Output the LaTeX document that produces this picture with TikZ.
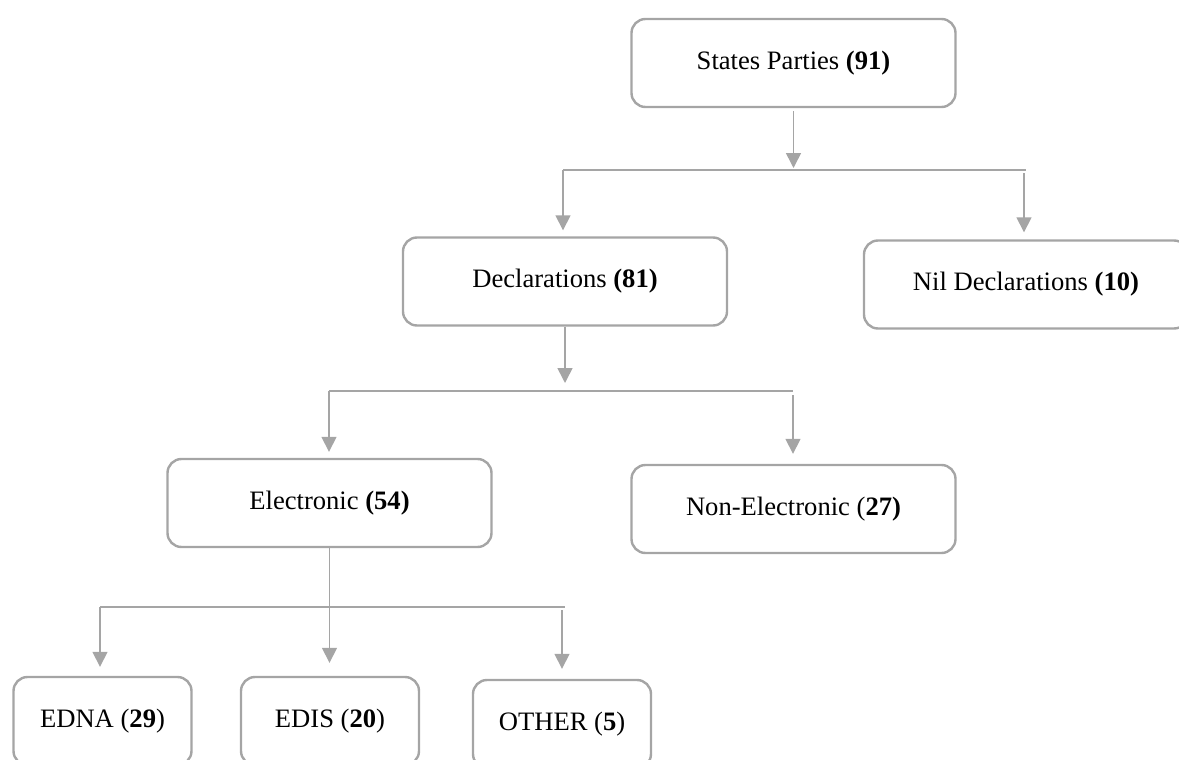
\documentclass[tikz,border=0pt]{standalone}
\usepackage{fontspec}
\setmainfont{Liberation Serif}
\usetikzlibrary{arrows.meta}
\definecolor{linegray}{HTML}{A5A5A5}

\begin{document}
\begin{tikzpicture}[x=0.5pt, y=-0.5pt,
  box/.style = {shape=rectangle, rounded corners=7pt, draw=linegray,
    line width=1.2pt, align=center, minimum height=44pt,
    font=\fontsize{13.3}{16}\selectfont},
  wide/.style = {box, minimum width=162pt},
  small/.style = {box, minimum width=89pt},
  bar/.style = {draw=linegray, line width=0.8pt},
  arr/.style = {bar, -{Triangle[width=7.5pt,length=7.5pt]}}]
  \useasboundingbox (0,0) rectangle (1179,760);
  % level 0 and 1
  \node[wide] (parties) at (793.5,63) {States Parties \textbf{(91)}};
  \node[wide] (decl) at (565,281.5) {Declarations \textbf{(81)}};
  \node[wide] (nil) at (1026,284.5) {Nil Declarations \textbf{(10)}};
  % level 2
  \node[wide] (elec) at (329.5,503) {Electronic \textbf{(54)}};
  \node[wide] (nonelec) at (793.5,509) {Non-Electronic (\textbf{27)}};
  % level 3
  \node[small] (edna) at (102.5,721) {EDNA (\textbf{29})};
  \node[small] (edis) at (330,721) {EDIS (\textbf{20})};
  \node[small] (other) at (562,724) {OTHER (\textbf{5})};
  % bars
  \coordinate (barAl) at (563,170);
  \coordinate (barAr) at (1026,170);
  \coordinate (barBl) at (329,391);
  \coordinate (barBr) at (793,391);
  \coordinate (barCl) at (100,607);
  \coordinate (barCr) at (565,607);
  \draw[bar] (barAl) -- (barAr);
  \draw[bar] (barBl) -- (barBr);
  \draw[bar] (barCl) -- (barCr);
  % arrows
  \draw[arr, shorten <=1.5pt] (parties.south) -- ([yshift=1pt]parties.south |- barAl);
  \draw[arr, shorten >=3pt] (barAl) -- (barAl |- decl.north);
  \draw[arr, shorten <=1.5pt, shorten >=3.5pt] ([xshift=-1pt]barAr) -- ([xshift=-1pt]barAr |- nil.north);
  \draw[arr] (decl.south) -- ([yshift=4pt]decl.south |- barBl);
  \draw[arr, shorten >=3pt] (barBl) -- (barBl |- elec.north);
  \draw[arr, shorten <=2pt, shorten >=5pt] (barBr) -- (barBr |- nonelec.north);
  \draw[arr, shorten >=6.5pt] (elec.south) -- (elec.south |- edis.north);
  \draw[arr, shorten >=4.5pt] (barCl) -- (barCl |- edna.north);
  \draw[arr, shorten <=1.5pt, shorten >=5pt] ([xshift=-1.5pt]barCr) -- ([xshift=-1.5pt]barCr |- other.north);
\end{tikzpicture}
\end{document}
